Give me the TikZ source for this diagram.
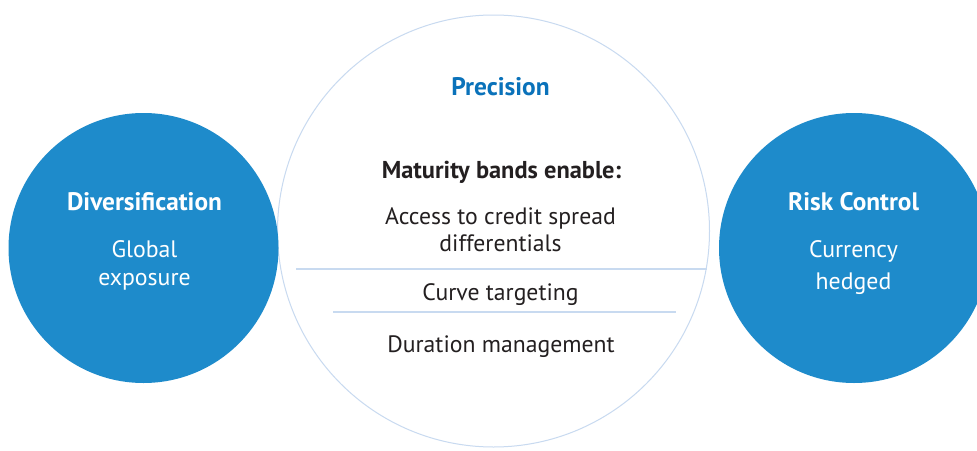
\documentclass[tikz,border=0pt]{standalone}
\usepackage{fontspec}
\setmainfont{PT Sans}
\definecolor{discblue}{HTML}{1E8BCB}
\definecolor{headblue}{HTML}{0A72BA}
\definecolor{ringblue}{HTML}{C8DAF0}
\definecolor{bodytext}{HTML}{231F20}
\tikzset{
  disc/.style={circle, fill=discblue, minimum size=270pt, inner sep=0pt},
  ring/.style={circle, draw=ringblue, line width=1pt, minimum size=432pt, inner sep=0pt},
  discbold/.style={anchor=base, text=white, font=\fontsize{25.3}{29}\selectfont\bfseries},
  disctext/.style={anchor=base, text=white, font=\fontsize{23.8}{28}\selectfont},
  midhead/.style={anchor=base, text=headblue, font=\fontsize{25.4}{29}\selectfont\bfseries},
  midbold/.style={anchor=base, text=bodytext, font=\fontsize{24.4}{28}\selectfont\bfseries},
  midtext/.style={anchor=base, text=bodytext, font=\fontsize{23.7}{28}\selectfont},
  divider/.style={draw=ringblue, line width=1.2pt}
}
\begin{document}
\begin{tikzpicture}[x=1pt,y=-1pt]
\useasboundingbox (0,0) rectangle (977,450);
\fill[white] (0,0) rectangle (977,450);
\clip (0,0) rectangle (977,450);

% central ring
\node[ring] (prec) at (493.5,231) {};

% side discs
\node[disc] (div) at (143.5,248) {};
\node[disc] (risk) at (854,248) {};

% left disc text
\node[discbold] (divhead) at (144.5,210) {Diversification};
\node[disctext] (divl1) at (144.5,257) {Global};
\node[disctext] (divl2) at (144.5,285) {exposure};

% right disc text
\node[discbold] (riskhead) at (853.5,210) {Risk Control};
\node[disctext] (riskl1) at (853.5,257) {Currency};
\node[disctext] (riskl2) at (853.5,289) {hedged};

% central text
\node[midhead] (prechead) at (500.5,95) {Precision};
\node[midbold] (bands) at (501.5,178) {Maturity bands enable:};
\node[midtext] (item1a) at (500.5,224) {Access to credit spread};
\node[midtext] (item1b) at (500.5,251) {differentials};
\node[midtext] (item2) at (500.5,300) {Curve targeting};
\node[midtext] (item3) at (501,352) {Duration management};

% dividers
\coordinate (d1l) at (296,269);
\coordinate (d1r) at (707,269);
\coordinate (d2l) at (333,312);
\coordinate (d2r) at (676,312);
\draw[divider] (d1l) -- (d1r);
\draw[divider] (d2l) -- (d2r);
\end{tikzpicture}
\end{document}
